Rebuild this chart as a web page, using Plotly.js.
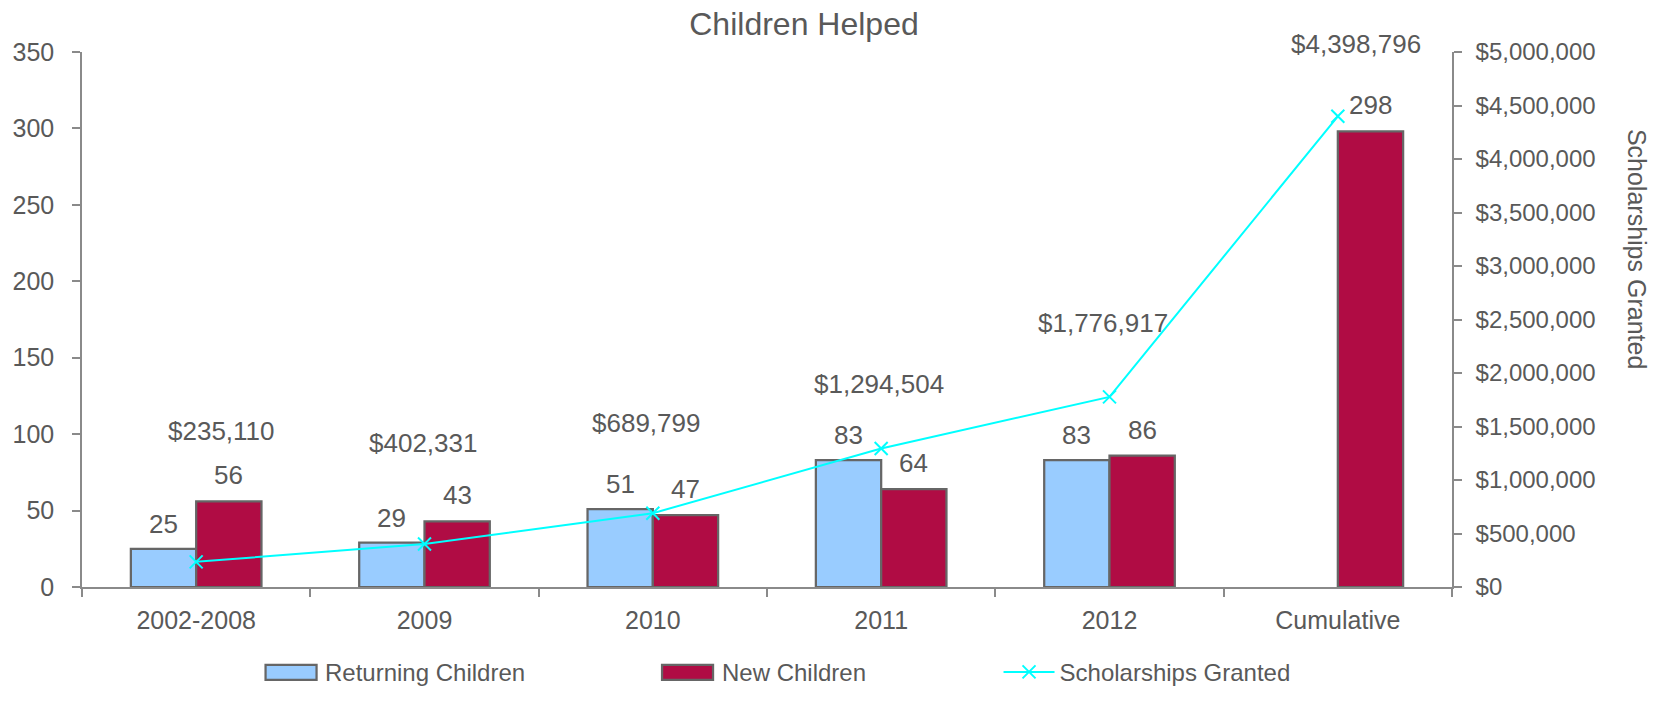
<!DOCTYPE html>
<html>
<head>
<meta charset="utf-8">
<script src="https://cdn.plot.ly/plotly-3.0.1.min.js"></script>
<style>html,body{margin:0;padding:0;background:#fff;}#chart{width:1665px;height:707px;}</style>
</head>
<body>
<div id="chart"></div>
<script>
const categories = ["2002-2008", "2009", "2010", "2011", "2012", "Cumulative"];
const returningChildren = [25, 29, 51, 83, 83, null];
const newChildren = [56, 43, 47, 64, 86, 298];
const scholarships = [235110, 402331, 689799, 1294504, 1776917, 4398796];
const scholarshipLabels = ["$235,110", "$402,331", "$689,799", "$1,294,504", "$1,776,917", "$4,398,796"];
// label offsets (px) from each line point
const labelDX = [25, -2, -7, -2, -7, 18];
const labelDY = [131, 101, 90, 64, 74, 72];

const txt = "#595959";
const axc = "#8a8a8a";
const fontFam = "Liberation Sans, Arial, sans-serif";
const returningColor = "#99CCFF";
const newColor = "#B00C44";
const outline = "#666666";
const idx = categories.map((c, i) => i);

const traces = [
  {
    type: "bar", name: "Returning Children", x: categories, y: returningChildren,
    marker: {color: returningColor, line: {color: outline, width: 2.25}},
    showlegend: false
  },
  {
    type: "bar", name: "New Children", x: categories, y: newChildren,
    marker: {color: newColor, line: {color: outline, width: 2.25}},
    showlegend: false
  },
  {
    type: "scatter", mode: "lines+markers", name: "Scholarships Granted",
    x: categories, y: scholarships, yaxis: "y2",
    line: {color: "#00FFFF", width: 2},
    marker: {symbol: "x-thin", size: 13, line: {color: "#00FFFF", width: 2}, color: "#00FFFF"},
    cliponaxis: false, legend: "legend"
  }
];

const labelFont = {size: 26, color: txt, family: fontFam};
const legFont = {size: 24, color: txt, family: fontFam};
const annotations = [];
idx.forEach(i => {
  if (returningChildren[i] != null) {
    annotations.push({x: i, y: returningChildren[i], xref: "x", yref: "y", text: String(returningChildren[i]),
      showarrow: false, xshift: -32.7, yshift: 25, font: labelFont});
  }
  if (newChildren[i] != null) {
    annotations.push({x: i, y: newChildren[i], xref: "x", yref: "y", text: String(newChildren[i]),
      showarrow: false, xshift: 32.7, yshift: 26, font: labelFont});
  }
  annotations.push({x: i, y: scholarships[i], xref: "x", yref: "y2",
    text: scholarshipLabels[i], showarrow: false,
    xshift: labelDX[i], yshift: labelDY[i], font: labelFont});
});
annotations.push({
  x: 1.0, xref: "paper", xanchor: "center", xshift: 185,
  y: 0.632, yref: "paper", yanchor: "middle",
  text: "Scholarships Granted", textangle: 90, showarrow: false,
  font: {size: 25, color: txt, family: fontFam}
});

// legend entries for the two bar series (wide Excel-style swatches)
const legY = -0.1594;
const barLegend = [
  {name: "Returning Children", color: returningColor, swatchX: 0.1526, textX: 0.1759},
  {name: "New Children", color: newColor, swatchX: 0.4420, textX: 0.4654}
];
const shapes = [];
barLegend.forEach(e => {
  shapes.push({type: "rect", xref: "paper", yref: "paper", xsizemode: "pixel", ysizemode: "pixel",
    xanchor: e.swatchX, yanchor: legY, x0: -25.5, x1: 25.5, y0: -7.5, y1: 7.5,
    fillcolor: e.color, line: {color: outline, width: 2.25}, layer: "above"});
  annotations.push({x: e.textX, xref: "paper", xanchor: "left", y: legY, yref: "paper", yanchor: "middle",
    text: e.name, showarrow: false, font: legFont});
});

const layout = {
  width: 1665, height: 707,
  margin: {l: 82, r: 213, t: 52, b: 103},
  paper_bgcolor: "#fff", plot_bgcolor: "rgba(0,0,0,0)",
  font: {family: fontFam, color: txt, size: 25},
  title: {text: "Children Helped", x: 0.527, xref: "paper", xanchor: "center", y: 0.966, yref: "container", yanchor: "middle",
          font: {size: 32, color: txt, family: fontFam}},
  barmode: "group", bargap: 0.428, bargroupgap: 0,
  showlegend: true,
  legend: {orientation: "h", x: 0.669, xanchor: "left", y: legY, yanchor: "middle", font: legFont, itemwidth: 51, bgcolor: "rgba(0,0,0,0)"},
  xaxis: {
    type: "category", range: [-0.5, 5.5], showgrid: false, zeroline: false,
    showline: true, linecolor: axc, linewidth: 1.5,
    ticks: "outside", tickson: "boundaries", ticklen: 8, tickcolor: axc, tickwidth: 1.5,
    ticklabelstandoff: 10,
    tickfont: {size: 25, color: txt}
  },
  xaxis2: {
    overlaying: "x", anchor: "y", side: "bottom", range: [-0.5, 5.5], tick0: -0.5, dtick: 1,
    showgrid: false, zeroline: false, showline: false, showticklabels: false,
    ticks: "inside", ticklen: 8, tickcolor: axc, tickwidth: 1.5
  },
  yaxis: {
    range: [0, 350], dtick: 50, showgrid: false, zeroline: false,
    showline: true, linecolor: axc, linewidth: 1.5,
    ticks: "outside", ticklen: 8, tickcolor: axc, tickwidth: 1.5,
    ticklabelstandoff: 13,
    tickfont: {size: 25, color: txt}
  },
  yaxis2: {
    overlaying: "y", side: "right", range: [0, 5000000], dtick: 500000,
    tickformat: "$,.0f", showgrid: false, zeroline: false,
    showline: true, linecolor: axc, linewidth: 1.5,
    ticks: "outside", ticklen: 8, tickcolor: axc, tickwidth: 1.5,
    ticklabelstandoff: 9,
    tickfont: {size: 24, color: txt}
  },
  yaxis3: {
    overlaying: "y", anchor: "x", side: "left", range: [0, 350], dtick: 50,
    showgrid: false, zeroline: false, showline: false, showticklabels: false,
    ticks: "inside", ticklen: 8, tickcolor: axc, tickwidth: 1.5
  },
  yaxis4: {
    overlaying: "y", anchor: "x", side: "right", range: [0, 5000000], dtick: 500000,
    showgrid: false, zeroline: false, showline: false, showticklabels: false,
    ticks: "inside", ticklen: 8, tickcolor: axc, tickwidth: 1.5
  },
  shapes: shapes,
  annotations: annotations
};

Plotly.newPlot("chart", traces, layout, {displayModeBar: false, responsive: false});
</script>
</body>
</html>
